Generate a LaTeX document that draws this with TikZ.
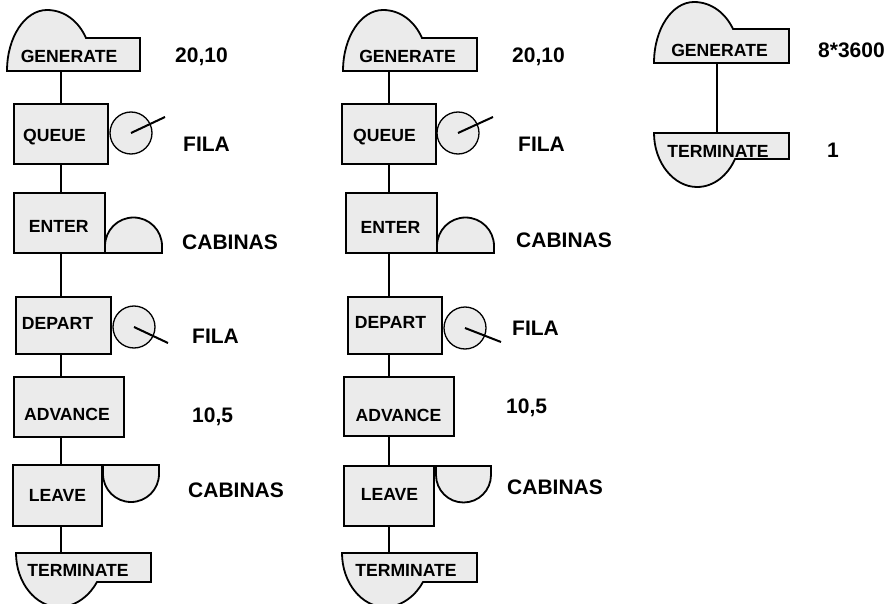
\documentclass[tikz,border=0pt]{standalone}
\usepackage{fontspec}
\setmainfont{Liberation Sans}
\definecolor{blkfill}{RGB}{235,235,235}
\begin{document}
\begin{tikzpicture}[x=1pt,y=-1pt,
  shp/.style={fill=blkfill, draw=black, line width=1.8pt},
  box/.style={shp, rectangle, inner sep=0pt, outer sep=0pt},
  area/.style={rectangle, inner sep=0pt, outer sep=0pt, draw=none},
  conn/.style={draw=black, line width=1.6pt},
  qcirc/.style={fill=blkfill, draw=black, line width=1.3pt, circle, inner sep=0pt, outer sep=0pt, minimum size=42pt},
  tick/.style={draw=black, line width=2pt},
  btxt/.style={font=\fontsize{17.6}{20}\bfseries\selectfont, inner sep=0pt, text height=12.6pt, text depth=0pt},
  lbl/.style={font=\fontsize{21}{24}\bfseries\selectfont, inner sep=0pt, anchor=base west}]
\useasboundingbox (0,0) rectangle (896,604);
\clip (0,0) rectangle (896,604);
\coordinate (cx1) at (61,0);
\coordinate (cx2) at (389,0);
\coordinate (cx3) at (717,0);

% ---------- left column ----------
\filldraw[shp] (7,71) .. controls (7,37) and (25,10) .. (47,10) .. controls (65,10) and (79,22) .. (86,38) -- (140,38) -- (140,71) -- cycle;
\node[area, minimum width=133pt, minimum height=33pt] (g1) at (73.5,54.5) {};
\node[box, minimum width=94pt, minimum height=60pt] (q1) at (61,134) {};
\node[qcirc] (qc1) at (131,133) {};
\node[box, minimum width=91pt, minimum height=60pt] (e1) at (59.5,223) {};
\filldraw[shp] (e1.south east) -- ++(0,-7) arc[start angle=180,end angle=0,radius=28.5pt] -- ++(0,7) -- cycle;
\node[box, minimum width=95pt, minimum height=57pt] (d1) at (63.5,325.5) {};
\node[qcirc] (dc1) at (134,327) {};
\node[box, minimum width=110pt, minimum height=60pt] (a1) at (69,407) {};
\node[box, minimum width=89pt, minimum height=61pt] (l1) at (57.5,495.5) {};
\filldraw[shp] (l1.north east) -- ++(1,0) -- ++(0,9) arc[start angle=180,end angle=360,radius=28pt] -- ++(0,-9) -- cycle;
\filldraw[shp] (16,553) -- (151,553) -- (151,582) -- (97,582) .. controls (90,595) and (76,607) .. (59,607) .. controls (36,607) and (16,583) .. (16,553) -- cycle;
\node[area, minimum width=135pt, minimum height=29pt] (t1) at (83.5,567.5) {};

\coordinate (qe1) at (165,117);
\coordinate (de1) at (168,343);
\draw[tick] (qc1.center) -- (qe1);
\draw[tick] (dc1.center) -- (de1);
\draw[conn] (g1.south -| cx1) -- (q1.north -| cx1);
\draw[conn] (q1.south -| cx1) -- (e1.north -| cx1);
\draw[conn] (e1.south -| cx1) -- (d1.north -| cx1);
\draw[conn] (d1.south -| cx1) -- (a1.north -| cx1);
\draw[conn] (a1.south -| cx1) -- (l1.north -| cx1);
\draw[conn] (l1.south -| cx1) -- (t1.north -| cx1);

\node[btxt] (g1t) at (69,56) {GENERATE};
\node[btxt] (q1t) at (54.5,135) {QUEUE};
\node[btxt] (e1t) at (58.7,226.5) {ENTER};
\node[btxt] (d1t) at (57.5,323) {DEPART};
\node[btxt] (a1t) at (67,414.5) {ADVANCE};
\node[btxt] (l1t) at (57.5,495) {LEAVE};
\node[btxt] (t1t) at (78,570) {TERMINATE};

\node[lbl] (p1) at (175,63) {20,10};
\node[lbl] (p2) at (183,152) {FILA};
\node[lbl] (p3) at (182,249.5) {CABINAS};
\node[lbl] (p4) at (192,343) {FILA};
\node[lbl] (p5) at (192,422) {10,5};
\node[lbl] (p6) at (188,497) {CABINAS};

% ---------- middle column ----------
\filldraw[shp] (343,71) .. controls (343,37) and (361,10) .. (383,10) .. controls (401,10) and (415,22) .. (422,38) -- (477,38) -- (477,71) -- cycle;
\node[area, minimum width=134pt, minimum height=33pt] (g2) at (410,54.5) {};
\node[box, minimum width=94pt, minimum height=60pt] (q2) at (389,134) {};
\node[qcirc] (qc2) at (458,133) {};
\node[box, minimum width=91pt, minimum height=60pt] (e2) at (391.5,223) {};
\filldraw[shp] (e2.south east) -- ++(0,-7) arc[start angle=180,end angle=0,radius=28.5pt] -- ++(0,7) -- cycle;
\node[box, minimum width=94pt, minimum height=57pt] (d2) at (395,325.5) {};
\node[qcirc] (dc2) at (465,328) {};
\node[box, minimum width=110pt, minimum height=59pt] (a2) at (399,406.5) {};
\node[box, minimum width=90pt, minimum height=60pt] (l2) at (389,496) {};
\filldraw[shp] (l2.north east) -- ++(2,0) -- ++(0,9) arc[start angle=180,end angle=360,radius=27.5pt] -- ++(0,-9) -- cycle;
\filldraw[shp] (342,553) -- (477,553) -- (477,582) -- (423,582) .. controls (416,595) and (402,607) .. (385,607) .. controls (362,607) and (342,583) .. (342,553) -- cycle;
\node[area, minimum width=135pt, minimum height=29pt] (t2) at (409.5,567.5) {};

\coordinate (qe2) at (493,117);
\coordinate (de2) at (501,342);
\draw[tick] (qc2.center) -- (qe2);
\draw[tick] (dc2.center) -- (de2);
\draw[conn] (g2.south -| cx2) -- (q2.north -| cx2);
\draw[conn] (q2.south -| cx2) -- (e2.north -| cx2);
\draw[conn] (e2.south -| cx2) -- (d2.north -| cx2);
\draw[conn] (d2.south -| cx2) -- (a2.north -| cx2);
\draw[conn] (a2.south -| cx2) -- (l2.north -| cx2);
\draw[conn] (l2.south -| cx2) -- (t2.north -| cx2);

\node[btxt] (g2t) at (407.5,56) {GENERATE};
\node[btxt] (q2t) at (384.5,135) {QUEUE};
\node[btxt] (e2t) at (390.5,227) {ENTER};
\node[btxt] (d2t) at (390.5,322.5) {DEPART};
\node[btxt] (a2t) at (398.5,415) {ADVANCE};
\node[btxt] (l2t) at (389.5,494) {LEAVE};
\node[btxt] (t2t) at (406,570.5) {TERMINATE};

\node[lbl] (m1) at (512,63) {20,10};
\node[lbl] (m2) at (518,152) {FILA};
\node[lbl] (m3) at (516,247) {CABINAS};
\node[lbl] (m4) at (512,335) {FILA};
\node[lbl] (m5) at (506,413) {10,5};
\node[lbl] (m6) at (507,494) {CABINAS};

% ---------- right column ----------
\filldraw[shp] (654,63) .. controls (654,29) and (672,2) .. (694,2) .. controls (712,2) and (726,14) .. (733,29) -- (789,29) -- (789,63) -- cycle;
\node[area, minimum width=135pt, minimum height=34pt] (g3) at (721.5,46) {};
\filldraw[shp] (654,133) -- (789,133) -- (789,159) -- (735,159) .. controls (728,175) and (714,187) .. (697,187) .. controls (674,187) and (654,163) .. (654,133) -- cycle;
\node[area, minimum width=135pt, minimum height=26pt] (t3) at (721.5,146) {};
\draw[conn] (g3.south -| cx3) -- (t3.north -| cx3);

\node[btxt] (g3t) at (719.5,50.5) {GENERATE};
\node[btxt] (t3t) at (718,151) {TERMINATE};
\node[lbl] (r1) at (818,58) {8*3600};
\node[lbl] (r2) at (827,158) {1};
\end{tikzpicture}
\end{document}
